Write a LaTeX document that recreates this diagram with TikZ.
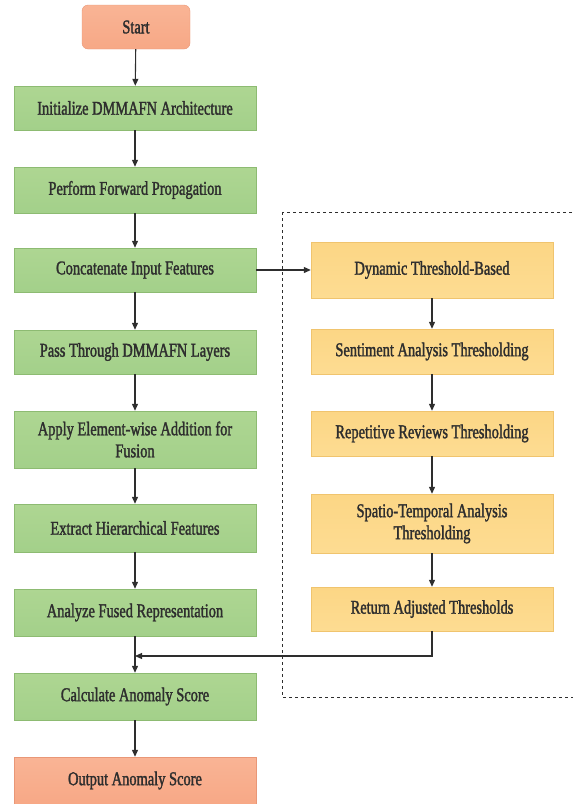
\documentclass[tikz,border=0pt]{standalone}
\usepackage{fontspec}
\setmainfont{Liberation Serif}[FakeStretch=0.74,FakeBold=1.6]
\usetikzlibrary{arrows.meta}
\definecolor{boxgreen}{HTML}{A3D08A}
\definecolor{boxgreentop}{HTML}{AED692}
\definecolor{edgegreen}{HTML}{8DBB72}
\definecolor{boxorange}{HTML}{F7A886}
\definecolor{boxorangetop}{HTML}{F9B495}
\definecolor{edgeorange}{HTML}{E99777}
\definecolor{boxyellow}{HTML}{FCD685}
\definecolor{boxyellowbot}{HTML}{FDDC92}
\definecolor{edgeyellow}{HTML}{F0C46E}
\definecolor{inkgray}{HTML}{2E2E2E}
\tikzset{
  >={Triangle[length=7pt,width=6pt]},
  flowbox/.style={minimum width=242pt, text=inkgray, align=center, inner sep=2pt,
    font=\fontsize{19.5}{22}\selectfont},
  greenbox/.style={flowbox, draw=edgegreen, top color=boxgreentop, bottom color=boxgreen},
  endbox/.style={flowbox, draw=edgeorange, top color=boxorangetop, bottom color=boxorange},
  threshbox/.style={flowbox, draw=edgeyellow, top color=boxyellow, bottom color=boxyellowbot},
  link/.style={draw=inkgray, line width=1.1pt}
}
\begin{document}
\begin{tikzpicture}[x=1pt, y=-1pt]
			\useasboundingbox (0,0) rectangle (573,804);
			% main column
			\node[endbox, rounded corners=6pt, minimum width=108pt, minimum height=44pt] (start) at (136, 27) {Start};
			\node[greenbox, minimum height=44pt] (init) at (135, 108) {Initialize DMMAFN Architecture};
			\node[greenbox, minimum height=46pt] (fwd) at (135, 190) {Perform Forward Propagation};
			\node[greenbox, minimum height=44pt] (concat) at (135, 270) {Concatenate Input Features};
			\node[greenbox, minimum height=44pt] (layers) at (135, 352) {Pass Through DMMAFN Layers};
			\node[greenbox, minimum height=57pt] (fusion) at (135, 439.5) {Apply Element-wise Addition for\\Fusion};
			\node[greenbox, minimum height=48pt] (hier) at (135, 528) {Extract Hierarchical Features};
			\node[greenbox, minimum height=47pt] (fused) at (135, 612.5) {Analyze Fused Representation};
			\node[greenbox, minimum height=47pt] (score) at (135, 696.5) {Calculate Anomaly Score};
			\node[endbox, minimum height=47pt] (output) at (135, 780.5) {Output Anomaly Score};
			% threshold column
			\draw[inkgray, dashed, line width=0.6pt] (282, 212) rectangle (590, 697);
			\node[threshbox, minimum height=56pt] (dyn) at (432, 270) {Dynamic Threshold-Based};
			\node[threshbox, minimum height=45pt] (sent) at (432, 351.5) {Sentiment Analysis Thresholding};
			\node[threshbox, minimum height=45pt] (rep) at (432, 433.5) {Repetitive Reviews Thresholding};
			\node[threshbox, minimum height=59pt] (spat) at (432, 523.5) {Spatio-Temporal Analysis\\Thresholding};
			\node[threshbox, minimum height=44pt] (ret) at (432, 609) {Return Adjusted Thresholds};
			\coordinate (bend) at (432, 656);
			\coordinate (join) at (135, 656);
			\draw[link, ->] (start) -- (init);
			\draw[link, ->] (init) -- (fwd);
			\draw[link, ->] (fwd) -- (concat);
			\draw[link, ->] (concat) -- (layers);
			\draw[link, ->] (layers) -- (fusion);
			\draw[link, ->] (fusion) -- (hier);
			\draw[link, ->] (hier) -- (fused);
			\draw[link, ->] (fused) -- (score);
			\draw[link, ->] (score) -- (output);
			\draw[link, ->] (concat) -- (dyn);
			\draw[link, ->] (dyn) -- (sent);
			\draw[link, ->] (sent) -- (rep);
			\draw[link, ->] (rep) -- (spat);
			\draw[link, ->] (spat) -- (ret);
			\draw[link, ->] (ret) -- (bend) -- (join);
		\end{tikzpicture}
\end{document}
